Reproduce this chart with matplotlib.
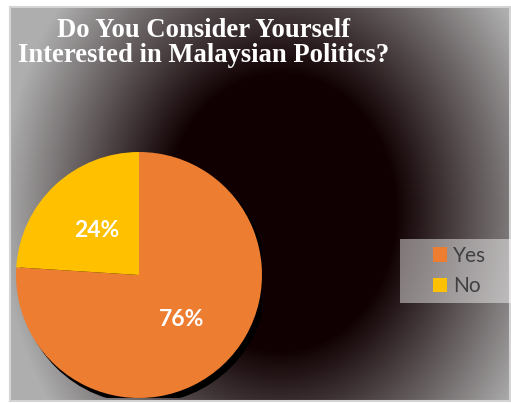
import numpy as np
import matplotlib.pyplot as plt
from matplotlib.patches import Rectangle, Circle

# survey answers
labels = ['Yes', 'No']
shares = [76, 24]
colors = ['#ED7D31', '#FFC000']
title = 'Do You Consider Yourself\nInterested in Malaysian Politics?'

W, H = 511, 403
fig = plt.figure(figsize=(W / 100, H / 100), dpi=100)
fig.patch.set_facecolor('white')

# chart area (pixels)
x0, y0, x1, y1 = 10, 7, 510, 401

# elliptical gradient background, dark core fading to grey at the edges
bg = fig.add_axes([x0 / W, 1 - y1 / H, (x1 - x0) / W, (y1 - y0) / H])
yy, xx = np.mgrid[y0:y1, x0:x1]
cx, cy = 280, 212
r = np.hypot(xx - cx, (yy - cy) / 1.2)
s = np.clip((r - 115) / (280 - 115), 0, 1)
dark = np.array([0x10, 0x00, 0x02]) / 255
grey = np.array([0xae, 0xae, 0xae]) / 255
img = dark + (grey - dark) * s[..., None]
bg.imshow(img, aspect='auto', interpolation='bilinear')
bg.set_xticks([])
bg.set_yticks([])
for sp in bg.spines.values():
    sp.set_color('#d4d4d4')
    sp.set_linewidth(1.5)

# title
fig.text(204 / W, 1 - 43 / H, title, ha='center', va='center', color='white',
         fontsize=19.2, fontweight='bold', family='Liberation Serif',
         linespacing=1.02)

# pie
ax = fig.add_axes([16 / W, 1 - 398 / H, 246 / W, 246 / H])
ax.set_facecolor('none')
ax.add_patch(Circle((0.035, -0.04), 1.0, color='black', zorder=0))
wedges, texts, autotexts = ax.pie(shares, colors=colors, startangle=90,
                                  counterclock=False, autopct='%.0f%%',
                                  pctdistance=0.5, radius=1.0,
                                  wedgeprops={'linewidth': 0})
for t in autotexts:
    t.set_color('white')
    t.set_fontsize(16.5)
    t.set_fontweight('bold')
    t.set_family('Lato')
ax.set_xlim(-1, 1)
ax.set_ylim(-1, 1)
ax.set_aspect('equal')
ax.axis('off')

# legend box
fig.patches.append(Rectangle((400 / W, 1 - 303 / H), 111 / W, 64 / H,
                             transform=fig.transFigure, facecolor='white',
                             alpha=0.45, edgecolor='none'))
leg = fig.legend(wedges, labels, loc='center left',
                 bbox_to_anchor=(433 / W, 1 - 271 / H), frameon=False,
                 prop={'family': 'Lato', 'size': 15}, handlelength=0.68,
                 handleheight=0.68, handletextpad=0.3, labelspacing=0.5,
                 borderpad=0, borderaxespad=0, labelcolor='#404040')

fig.savefig('out.png', dpi=100, facecolor='white')
